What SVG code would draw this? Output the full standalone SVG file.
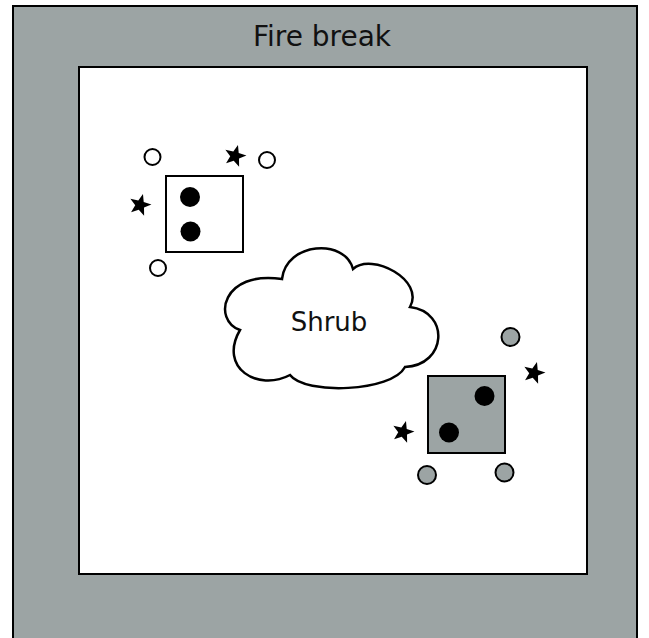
<svg xmlns="http://www.w3.org/2000/svg" xmlns:xlink="http://www.w3.org/1999/xlink" width="649" height="638" viewBox="0 0 649 638">
  <style>
    .frame { stroke: #000; stroke-width: 2; }
    .gray { fill: #9ca4a4; }
    .open { fill: #fff; stroke: #000; stroke-width: 2; }
    .gcirc { fill: #9ca4a4; stroke: #000; stroke-width: 2; }
    .dot { fill: #000; }
    .lbl { font-family: "DejaVu Sans", Verdana, sans-serif; fill: #111; text-anchor: middle; }
  </style>
  <defs>
    <polygon id="star" points="0,-11.5 2.8,-3.9 10.9,-3.55 4.55,1.48 6.75,9.3 0,4.8 -6.75,9.3 -4.55,1.48 -10.9,-3.55 -2.8,-3.9" fill="#000"/>
  </defs>
  <rect width="649" height="638" fill="#fff"/>
  <g id="firebreak">
    <rect class="frame gray" x="13" y="6" width="624" height="640"/>
    <text class="lbl" x="322" y="46" font-size="28">Fire break</text>
  </g>
  <g id="area">
    <rect class="frame" fill="#fff" x="79" y="67" width="508" height="507"/>
  </g>
  <g id="shrub">
    <path d="M 282 279 C 286 242, 345 238, 353 269 C 372 252, 425 280, 410 307 C 450 312, 447 365, 405 367 C 392 392, 305 395, 290 375 C 258 392, 218 368, 240 330 C 212 320, 222 270, 282 279 Z" fill="#fff" stroke="#000" stroke-width="2.5"/>
    <text class="lbl" x="329" y="331" font-size="26">Shrub</text>
  </g>
  <g id="plot1">
    <rect x="166" y="176" width="77" height="76" fill="#fff" stroke="#000" stroke-width="2"/>
    <circle class="dot" cx="190" cy="197" r="10"/>
    <circle class="dot" cx="190.5" cy="231.5" r="10"/>
    <circle class="open" cx="152.5" cy="157" r="8"/>
    <circle class="open" cx="267" cy="160" r="8"/>
    <circle class="open" cx="158" cy="268" r="8"/>
    <use xlink:href="#star" transform="translate(235,156) rotate(15)"/>
    <use xlink:href="#star" transform="translate(140,205) rotate(15)"/>
  </g>
  <g id="plot2">
    <rect x="428" y="376" width="77" height="77" class="gray" stroke="#000" stroke-width="2"/>
    <circle class="dot" cx="484.5" cy="396" r="10"/>
    <circle class="dot" cx="449" cy="432.5" r="10"/>
    <circle class="gcirc" cx="510.5" cy="337" r="9"/>
    <circle class="gcirc" cx="427" cy="475" r="9"/>
    <circle class="gcirc" cx="504.5" cy="472.5" r="9"/>
    <use xlink:href="#star" transform="translate(534,373) rotate(15)"/>
    <use xlink:href="#star" transform="translate(403,432) rotate(15)"/>
  </g>
  <g id="connectors"/>
</svg>
